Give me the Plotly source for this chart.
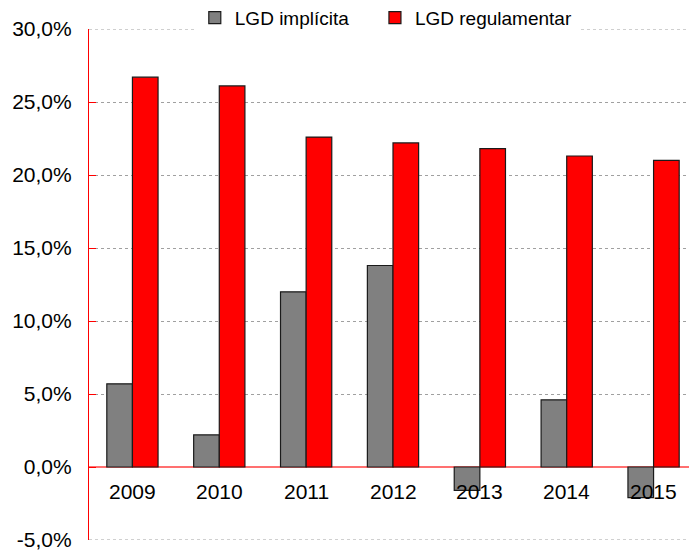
import plotly.graph_objects as go

years = ["2009", "2010", "2011", "2012", "2013", "2014", "2015"]
lgd_implicita = [5.7, 2.2, 12.0, 13.8, -1.6, 4.6, -2.1]
lgd_regulamentar = [26.7, 26.1, 22.6, 22.2, 21.8, 21.3, 21.0]
y_ticks = [-5, 0, 5, 10, 15, 20, 25, 30]
y_tick_labels = ["-5,0%", "0,0%", "5,0%", "10,0%", "15,0%", "20,0%", "25,0%", "30,0%"]

FONT = "Liberation Sans, Arial, sans-serif"
PAD = "\u00a0" * 4

fig = go.Figure()
fig.add_trace(go.Bar(
    x=years, y=lgd_implicita, name="LGD implícita" + PAD,
    marker=dict(color="#808080", line=dict(color="#1a1a1a", width=1.2)),
))
fig.add_trace(go.Bar(
    x=years, y=lgd_regulamentar, name="LGD regulamentar",
    marker=dict(color="#ff0000", line=dict(color="#1a1a1a", width=1.2)),
))

for i, yr in enumerate(years):
    fig.add_annotation(
        x=i, y=0, xref="x", yref="y", text=yr, showarrow=False,
        yanchor="middle", yshift=-24,
        font=dict(family=FONT, size=21, color="#000000"),
    )

# gridlines at the range ends (plotly omits them at the plot edges)
for yv in (y_ticks[0], y_ticks[-1]):
    fig.add_shape(
        type="line", xref="paper", yref="y", x0=0, x1=1, y0=yv, y1=yv,
        line=dict(color="#a0a0a0", width=1, dash="dot"), layer="below",
    )

fig.update_layout(
    width=689, height=546,
    margin=dict(l=81, r=0, t=21, b=14, pad=0, autoexpand=False),
    paper_bgcolor="white", plot_bgcolor="white",
    barmode="group", bargap=0.41, bargroupgap=0,
    font=dict(family=FONT, size=21, color="#000000"),
    showlegend=True,
    legend=dict(
        orientation="h", xref="paper", x=0.174, xanchor="left",
        yref="paper", y=1.059, yanchor="top",
        bgcolor="white", font=dict(family=FONT, size=19, color="#000000"),
        itemwidth=30, traceorder="normal",
    ),
    xaxis=dict(
        type="category", range=[-0.5, len(years) - 0.5], autorange=False,
        showticklabels=False, showline=False,
        showgrid=False, zeroline=False, ticks="", automargin=False,
    ),
    yaxis=dict(
        range=[-5, 30], autorange=False, tickvals=y_ticks, ticktext=y_tick_labels,
        showline=True, linecolor="#ff0000", linewidth=1.2,
        ticks="inside", ticklen=7, tickcolor="#ff0000", tickwidth=1.2,
        showgrid=True, gridcolor="#a0a0a0", griddash="dot", gridwidth=1,
        zeroline=True, zerolinecolor="#ff7070", zerolinewidth=1.5,
        tickfont=dict(family=FONT, size=21, color="#000000"),
        ticklabelstandoff=12, automargin=False,
    ),
)

fig.write_html("out.html")
